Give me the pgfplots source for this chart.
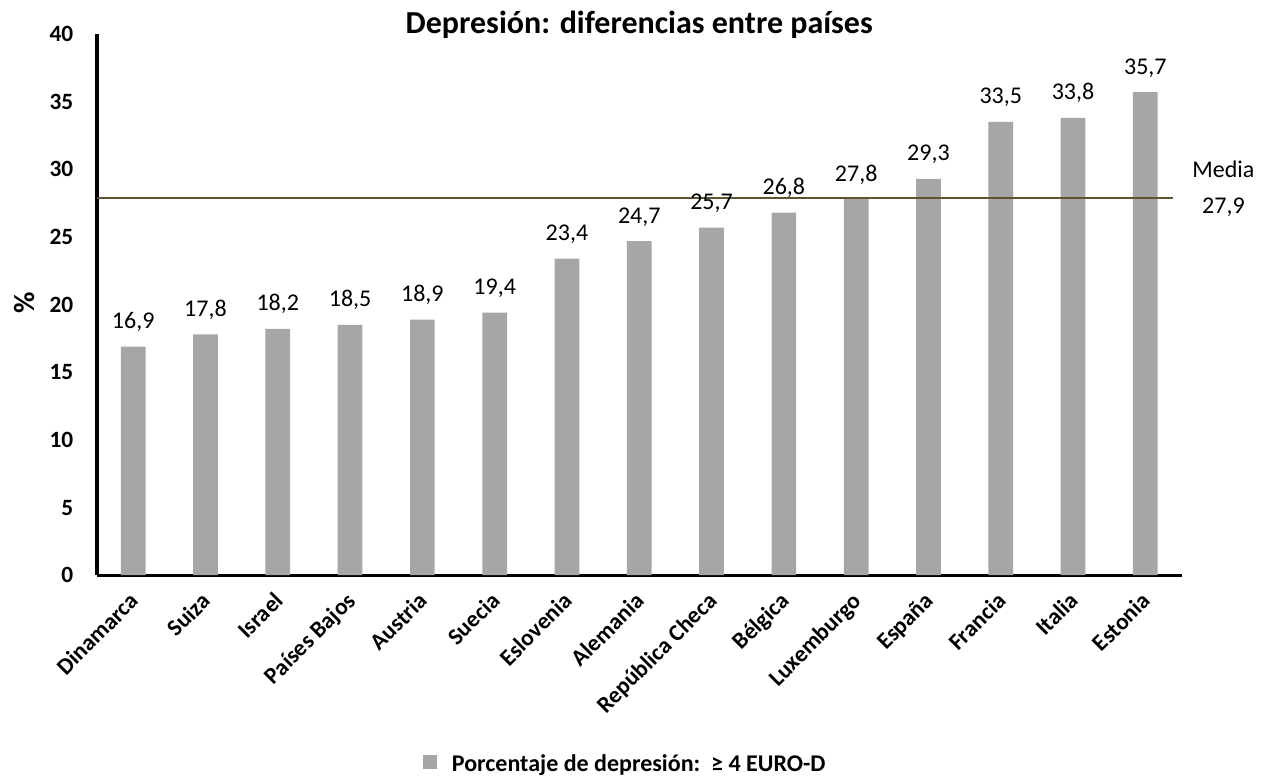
\documentclass[border=0pt]{standalone}
\usepackage{pgfplots}
\pgfplotsset{compat=1.18}
\usepackage{fontspec}
\setmainfont{Carlito}
\definecolor{barc}{HTML}{A6A6A6}
\definecolor{mediac}{HTML}{5C5535}
\newcommand{\tickfont}{\fontsize{17.5}{20}\selectfont}
\newcommand{\labfont}{\fontsize{18}{21}\selectfont}
\begin{document}
\begin{tikzpicture}
\begin{axis}[
  scale only axis, width=813pt, height=405.75pt,
  xmin=-0.5, xmax=14.5, ymin=0, ymax=40,
  clip=false,
  axis x line=bottom, axis y line=left,
  axis line style={-, line width=2.5pt, black},
  ytick={0,5,...,40},
  xtick={0,...,14},
  xticklabels={Dinamarca, Suiza, Israel, Países Bajos, Austria, Suecia, Eslovenia, Alemania, República Checa, Bélgica, Luxemburgo, España, Francia, Italia, Estonia},
  major tick length=0pt,
  tick style={draw=none},
  /pgf/number format/assume math mode=true,
  yticklabel style={font=\tickfont\bfseries, anchor=east, inner sep=0pt, xshift=-17.6pt},
  xticklabel style={font=\tickfont\bfseries, xshift=-3.75pt, yshift=-11.5pt, rotate=45, anchor=north east, inner sep=0pt},
  ylabel={\%},
  ylabel style={at={(-0.0673,0.503)}, anchor=center, font=\fontsize{22}{24}\selectfont\bfseries},
  legend style={at={(0.4875,-0.349)}, anchor=center, draw=none, fill=none, inner sep=0pt,
    font=\fontsize{18}{21}\selectfont\bfseries},
  legend image code/.code={\fill[#1] (0pt,-4pt) rectangle (10.5pt,6.5pt);},
  every node near coord/.append style={anchor=base, yshift=13.5pt, inner sep=0pt, font=\labfont, text=black},
]
\addplot[ybar, bar width=0.342, fill=barc, draw=none,
  nodes near coords={\pgfmathprintnumber[fixed, fixed zerofill, precision=1, use comma]{\pgfplotspointmeta}}]
  coordinates {(0,16.9) (1,17.8) (2,18.2) (3,18.5) (4,18.9) (5,19.4) (6,23.4) (7,24.7) (8,25.7) (9,26.8) (10,27.8) (11,29.3) (12,33.5) (13,33.8) (14,35.7)};
\addlegendentry{\hspace{9pt}Porcentaje de depresión:\ \ ≥ 4 EURO-D}
\addplot[mediac, line width=1.8pt, forget plot] coordinates {(-0.5,27.9) (14.38,27.9)};
\node[anchor=base, font=\labfont] at (axis cs:15.08,29.43) {Media};
\node[anchor=base, font=\labfont] at (axis cs:15.08,26.77) {27,9};
\node[anchor=base, font=\fontsize{24}{27}\selectfont\bfseries] at (rel axis cs:0.5,1) [yshift=0.75pt] {Depresión: diferencias entre países};
\end{axis}
\pgfresetboundingbox
\path[use as bounding box] ([xshift=-72.75pt,yshift=-152.25pt]current axis.south west) rectangle ([xshift=67.1pt,yshift=25.5pt]current axis.north east);
\end{tikzpicture}
\end{document}
